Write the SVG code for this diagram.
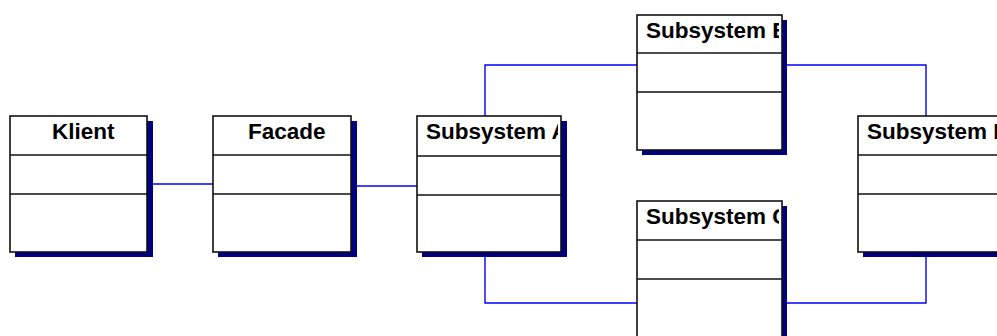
<svg xmlns="http://www.w3.org/2000/svg" width="997" height="336" viewBox="0 0 997 336">
  <style>
    .shadow { fill: #000080; }
    .box { fill: #ffffff; stroke: #111111; stroke-width: 1.6; }
    .div { stroke: #111111; stroke-width: 1.6; }
    .name { font-family: "Liberation Sans", Arial, sans-serif; font-weight: bold; font-size: 22.5px; fill: #000000; }
    .link { fill: none; stroke: #0000ff; stroke-width: 1.4; }
  </style>
  <defs>
    <clipPath id="clip-a"><rect x="417" y="116" width="141" height="40"/></clipPath>
    <clipPath id="clip-b"><rect x="637" y="15" width="142" height="40"/></clipPath>
    <clipPath id="clip-c"><rect x="637" y="201" width="142" height="40"/></clipPath>
    <clipPath id="clip-d"><rect x="858" y="116" width="142" height="40"/></clipPath>
  </defs>
  <rect width="997" height="336" fill="#ffffff"/>

  <g id="connectors">
    <path class="link" d="M147 184 H213"/>
    <path class="link" d="M351 186 H417"/>
    <path class="link" d="M485 116 V65 H637"/>
    <path class="link" d="M485 252 V303 H637"/>
    <path class="link" d="M782 65 H926 V116"/>
    <path class="link" d="M782 303 H926 V252"/>
  </g>

  <g id="klient">
    <rect class="shadow" x="15" y="121" width="138" height="136"/>
    <rect class="box" x="10" y="116" width="137" height="136"/>
    <line class="div" x1="10" y1="155" x2="147" y2="155"/>
    <line class="div" x1="10" y1="194" x2="147" y2="194"/>
    <text class="name" x="52" y="139">Klient</text>
  </g>

  <g id="facade">
    <rect class="shadow" x="218" y="121" width="139" height="136"/>
    <rect class="box" x="213" y="116" width="138" height="136"/>
    <line class="div" x1="213" y1="155" x2="351" y2="155"/>
    <line class="div" x1="213" y1="194" x2="351" y2="194"/>
    <text class="name" x="248" y="139">Facade</text>
  </g>

  <g id="subsystem-a">
    <rect class="shadow" x="422" y="121" width="145" height="136"/>
    <rect class="box" x="417" y="116" width="144" height="136"/>
    <line class="div" x1="417" y1="156" x2="561" y2="156"/>
    <line class="div" x1="417" y1="195" x2="561" y2="195"/>
    <text class="name" x="426" y="139" clip-path="url(#clip-a)">Subsystem A</text>
  </g>

  <g id="subsystem-b">
    <rect class="shadow" x="642" y="20" width="145" height="135"/>
    <rect class="box" x="637" y="15" width="145" height="135"/>
    <line class="div" x1="637" y1="53" x2="782" y2="53"/>
    <line class="div" x1="637" y1="92" x2="782" y2="92"/>
    <text class="name" x="646" y="38" clip-path="url(#clip-b)">Subsystem B</text>
  </g>

  <g id="subsystem-c">
    <rect class="shadow" x="642" y="206" width="145" height="136"/>
    <rect class="box" x="637" y="201" width="145" height="136"/>
    <line class="div" x1="637" y1="240" x2="782" y2="240"/>
    <line class="div" x1="637" y1="279" x2="782" y2="279"/>
    <text class="name" x="646" y="224" clip-path="url(#clip-c)">Subsystem C</text>
  </g>

  <g id="subsystem-d">
    <rect class="shadow" x="863" y="121" width="145" height="136"/>
    <rect class="box" x="858" y="116" width="145" height="136"/>
    <line class="div" x1="858" y1="155" x2="1003" y2="155"/>
    <line class="div" x1="858" y1="194" x2="1003" y2="194"/>
    <text class="name" x="867" y="139" clip-path="url(#clip-d)">Subsystem D</text>
  </g>
</svg>
